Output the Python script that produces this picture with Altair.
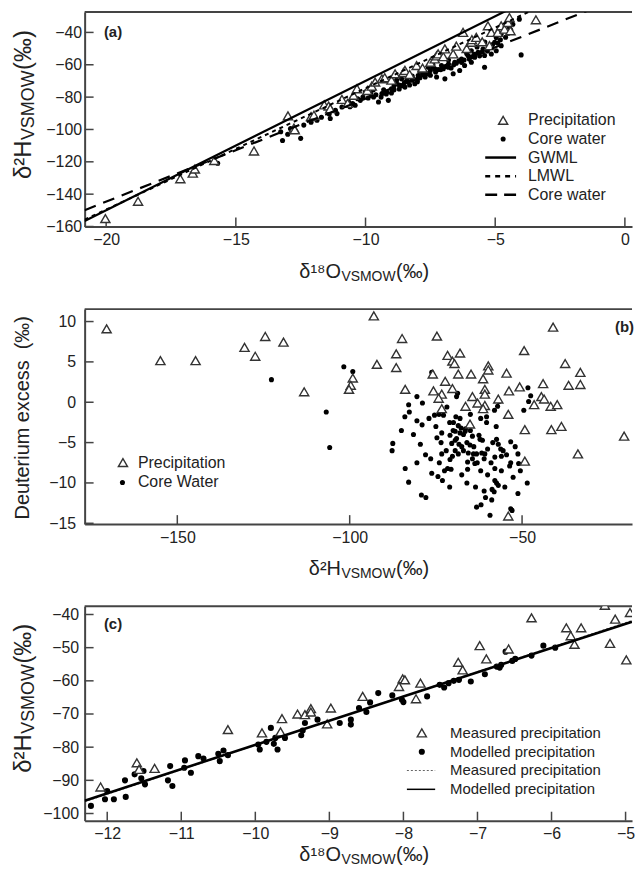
import altair as alt
import pandas as pd

FONT = "Liberation Sans"
INK = "#222222"
AXC = "#444444"
W = 550
H_A, H_B, H_C = 215.5, 216, 215.5

# ---------------- panel (a) ----------------
a_xdom = [-20.83, 0.275]
a_ydom = [-160, -27.4]
a_xticks = [-20, -15, -10, -5, 0]
a_yticks = [-40, -60, -80, -100, -120, -140, -160]
a_prec_o18 = [-20.03, -18.77, -17.14, -16.66, -16.58, -15.83, -14.30, -12.99, -12.76, -12.73,
              -12.10, -11.99, -11.59, -11.42, -11.36, -10.91, -10.69, -10.46, -10.33, -9.93,
              -9.76, -9.63, -9.37, -9.26, -9.00, -8.86, -8.54, -8.48, -8.30, -8.03,
              -7.80, -7.50, -7.33, -7.26, -7.20, -7.00, -6.94, -6.62, -6.50, -6.24,
              -6.10, -5.92, -5.90, -5.73, -5.50, -5.28, -5.22, -5.15, -4.90, -4.77,
              -4.64, -4.51, -4.45, -4.41, -3.43]
a_prec_h2 = [-155.1, -144.4, -130.5, -127.0, -124.5, -119.2, -113.3, -91.6, -99.1, -100.2,
             -92.1, -91.2, -84.8, -85.5, -87.1, -81.4, -83.9, -78.9, -74.8, -75.9,
             -73.2, -70.7, -68.7, -68.0, -69.5, -65.6, -64.8, -63.5, -66.0, -60.5,
             -62.0, -58.5, -56.4, -54.5, -53.3, -55.0, -50.2, -53.3, -48.5, -40.0,
             -50.0, -46.1, -44.5, -43.1, -45.8, -35.9, -48.2, -40.0, -40.0, -35.9,
             -38.0, -33.9, -30.8, -39.0, -32.2]
a_core_o18 = [-15.70, -13.27, -13.20, -12.89, -12.50, -12.38, -11.87, -11.36, -11.10, -11.16,
              -10.91, -10.65, -10.40, -10.20, -10.01, -9.69, -9.50, -9.37, -9.18, -9.12,
              -9.00, -8.80, -8.61, -8.48, -8.35, -8.16, -8.10, -7.97, -7.71, -7.58,
              -7.33, -7.26, -7.07, -6.94, -6.81, -6.62, -6.56, -6.37, -6.30, -6.18,
              -6.05, -5.92, -5.92, -5.79, -5.66, -5.47, -5.41, -5.41, -5.15, -5.02,
              -4.96, -4.96, -4.77, -4.77, -4.45, -4.32, -4.07, -4.00,
              -8.90, -8.70, -8.20, -7.80, -7.50, -7.90, -8.40, -9.30, -9.80, -10.50,
              -6.80, -7.10, -6.40, -7.40, -8.00,
              -9.90, -9.60, -9.40, -9.20, -9.00, -8.90, -8.70, -8.60, -8.50, -8.30,
              -8.20, -8.00, -7.90, -7.70, -7.60, -7.50, -7.30, -7.20, -7.00, -6.90,
              -6.70, -6.60, -6.50, -6.30, -6.20, -6.00, -5.90, -5.80, -5.60, -5.50,
              -5.30, -5.20, -5.10, -4.90, -4.80, -4.60, -4.50, -4.40, -10.60, -10.30,
              -10.10, -9.70, -8.80, -8.40, -7.80, -7.40, -6.80, -6.10, -5.70, -5.40,
              -11.40, -11.70, -12.10, -12.70, -13.00]
a_core_h2 = [-120.9, -101.4, -106.8, -99.4, -105.5, -97.3, -94.3, -93.2, -90.2, -88.1,
             -86.1, -83.0, -85.0, -82.0, -76.9, -79.9, -83.0, -77.9, -76.9, -82.0,
             -74.8, -71.7, -68.7, -73.8, -70.7, -68.7, -71.7, -66.6, -64.6, -61.5,
             -62.5, -67.6, -60.5, -68.7, -61.5, -65.6, -58.4, -63.5, -56.4, -60.5,
             -54.3, -51.3, -58.4, -55.3, -52.3, -50.2, -54.3, -61.5, -53.3, -46.1,
             -51.3, -43.1, -48.2, -41.0, -36.9, -34.9, -31.8, -53.9,
             -73.0, -72.5, -67.0, -66.0, -63.5, -64.0, -69.5, -75.5, -78.0, -84.0,
             -59.5, -63.0, -57.5, -60.0, -69.0,
             -80.5, -78.5, -80.0, -78.0, -77.5, -75.5, -75.0, -73.0, -71.0, -72.5,
             -69.5, -70.5, -68.0, -67.5, -65.5, -66.5, -64.5, -63.0, -62.5, -61.0,
             -62.0, -60.0, -59.0, -58.5, -57.0, -56.5, -55.0, -53.5, -54.5, -52.0,
             -51.5, -49.5, -47.5, -46.5, -44.5, -43.0, -40.5, -38.5, -86.0, -81.0,
             -80.0, -75.5, -69.5, -67.5, -63.0, -61.5, -57.0, -53.0, -49.0, -46.0,
             -90.5, -92.5, -95.5, -101.0, -103.0]
a_line_names = ["GWML", "LMWL", "Core water"]
a_line_slope = [8.0, 7.5, 6.36]
a_line_icpt = [10.0, 0.5, -17.4]
a_legend = ["Precipitation", "Core water", "GWML", "LMWL", "Core water"]

# ---------------- panel (b) ----------------
b_xdom = [-176.88, -18.11]
b_ydom = [-15.1, 11.54]
b_xticks = [-150, -100, -50]
b_yticks = [10, 5, 0, -5, -10, -15]
b_prec_h2 = [-170.5, -154.9, -144.7, -130.5, -127.4, -124.5, -119.2, -113.2,
             -93.0, -84.8, -74.7, -86.5, -92.1, -86.5, -99.1, -99.7, -100.2, -83.9,
             -71.6, -68.0, -70.2, -69.6, -59.8, -59.8, -75.9, -68.5, -64.8, -61.3, -54.5,
             -72.3, -70.2, -75.7, -73.3, -74.2, -60.8, -60.8, -64.4, -66.4, -62.9, -60.8,
             -56.9, -61.3, -73.3, -53.8, -50.7, -54.0, -65.1, -49.2, -49.2, -54.0, -49.4,
             -41.0, -37.5, -36.5, -33.1, -33.1, -43.9, -44.4, -43.6, -46.5, -41.7, -39.8,
             -41.5, -38.6, -33.8, -20.4]
b_prec_dex = [9.1, 5.15, 5.15, 6.8, 5.7, 8.15, 7.45, 1.3,
              10.7, 7.9, 8.2, 6.0, 4.7, 4.3, 3.0, 2.1, 1.6, 1.6,
              5.8, 6.1, 5.1, 4.8, 4.5, 4.0, 3.5, 3.5, 3.5, 2.9, 3.6,
              2.6, 1.7, 1.4, 1.0, 0.5, 1.6, 1.0, 0.7, -0.5, -0.1, -0.4,
              0.4, -0.8, -0.8, 1.4, 1.9, -1.5, -2.7, -3.4, -7.3, -14.1, 6.4,
              9.3, 4.8, 2.1, 3.7, 2.2, 2.3, 0.7, 0.4, -0.3, -0.5, -0.3,
              -3.4, -3.0, -6.4, -4.2]
b_core_h2 = [-122.7, -106.8, -105.8, -101.7, -99.1, -76.2, -80.5, -78.9, -82.9, -82.7,
             -80.5, -85.0, -87.5, -87.7, -79.5, -83.9, -80.5, -82.9, -79.2, -77.9,
             -76.2, -74.4, -73.1, -75.4, -74.1, -72.8, -69.0, -69.2, -69.9, -68.5,
             -67.7, -66.4, -69.4, -68.0, -66.5, -73.3, -74.7, -70.9, -70.4, -68.3,
             -67.5, -67.0, -69.4, -70.2, -70.9, -71.6, -70.6, -65.6, -64.1, -64.4,
             -65.8, -65.8, -63.2, -61.7, -60.8, -60.0, -62.5, -62.2, -60.3, -64.4,
             -57.4, -56.9, -56.2, -55.5, -53.3, -57.9, -57.9, -57.9, -57.4, -56.9,
             -58.7, -58.1, -58.8, -60.6, -61.9, -63.2, -59.3, -53.3, -52.9, -52.6,
             -51.2, -51.0, -53.3, -53.6, -48.5, -51.2, -48.3, -47.5, -48.1, -57.1,
             -56.7, -60.3, -68.7, -69.4, -68.5, -63.7, -61.5, -56.0, -65.1, -73.3, -71.8,
             -77.0, -75.0, -73.5, -72.0, -71.0, -70.0, -69.0, -68.0, -67.0, -66.0,
             -65.0, -64.0, -63.0, -62.0, -61.0, -60.0, -59.0, -58.5, -57.5, -56.0,
             -55.0, -54.5, -52.0, -50.5, -49.5, -81.5, -78.0, -76.5, -74.0, -72.5,
             -71.0, -67.5, -66.0, -63.5, -61.0, -84.0, -79.0, -65.0, -62.0, -58.0]
b_core_dex = [2.8, -1.2, -5.6, 4.4, 3.8, 3.7, 0.7, -0.1, -0.3, -1.2,
              -2.3, -3.5, -5.1, -6.0, -5.2, -8.2, -7.5, -9.9, -11.5, -11.8,
              -8.8, -9.2, -9.7, -1.6, -1.5, -1.6, 0.7, -1.8, -2.5, -2.9,
              -3.2, -3.3, -3.6, -3.8, -3.6, -3.8, -4.4, -4.1, -5.1, -5.2,
              -5.5, -6.0, -6.0, -6.7, -7.1, -8.2, -8.3, -6.3, -6.4, -7.0,
              -7.4, -8.3, -6.4, -6.3, -6.4, -5.8, -4.1, -4.6, -2.5, -4.2,
              -4.6, -5.2, -5.8, -6.0, -4.9, -6.8, -8.2, -9.7, -10.0, -10.3,
              -10.8, -11.1, -12.1, -11.8, -12.7, -13.0, -14.0, -13.2, -13.4, -9.3,
              -6.4, -7.6, -7.5, -7.9, -10.0, -11.3, 1.8, 0.8, 0.1, -0.5,
              0.1, -1.8, 1.1, -4.7, -6.4, -7.6, -4.7, -6.7, -5.3, -6.4, -0.6,
              -2.0, -3.0, -5.0, -6.0, -2.5, -3.5, -4.5, -2.0, -4.0, -5.0,
              -3.5, -5.5, -7.5, -8.5, -7.0, -9.0, -7.5, -5.0, -3.0, -8.5,
              -10.5, -6.5, -5.5, -8.5, -1.0, -4.0, -6.5, -7.0, -7.5, -8.5,
              -10.5, -9.0, -10.0, -10.5, -11.0, -1.8, -2.8, -1.5, -2.0, -1.0]
b_legend = ["Precipitation", "Core Water"]

# ---------------- panel (c) ----------------
c_xdom = [-12.305, -4.913]
c_ydom = [-102.16, -37.5]
c_xticks = [-12, -11, -10, -9, -8, -7, -6, -5]
c_yticks = [-40, -50, -60, -70, -80, -90, -100]
c_meas_o18 = [-12.09, -11.60, -11.57, -11.36, -10.37, -9.91, -9.64, -9.66, -9.43, -9.33,
              -9.25, -9.25, -8.98, -9.03, -8.55, -8.01, -7.98, -8.06, -7.77, -7.83,
              -7.26, -7.20, -6.97, -6.88, -6.58, -6.27, -5.80, -5.60, -5.74, -5.69,
              -5.14, -4.94, -5.21, -4.99, -5.28]
c_meas_h2 = [-92.0, -84.7, -86.7, -86.4, -74.7, -75.7, -71.4, -75.4, -70.0, -70.2,
             -68.4, -69.4, -68.2, -73.0, -64.7, -59.4, -59.7, -61.7, -60.7, -65.4,
             -54.4, -56.7, -49.4, -53.4, -50.4, -41.0, -44.0, -44.0, -46.4, -49.0,
             -41.4, -39.4, -48.7, -53.7, -37.2]
c_mod_o18 = [-12.22, -12.03, -11.91, -11.75, -12.00, -11.76, -11.63, -11.51, -11.49, -11.54,
             -11.15, -11.18, -11.12, -10.95, -10.96, -10.87, -10.77, -10.70, -10.50, -10.48,
             -10.43, -10.37, -9.96, -9.94, -9.85, -9.79, -9.70, -9.73, -9.60, -9.38,
             -9.36, -9.33, -9.16, -8.86, -8.71, -8.71, -8.50, -8.60, -8.34, -8.15,
             -8.02, -8.00, -7.68, -7.51, -7.39, -7.32, -7.25, -7.09, -6.74, -6.68,
             -6.53, -6.49, -6.27, -6.11, -5.95, -6.62, -9.75, -8.45, -7.45, -6.90, -6.70]
c_mod_h2 = [-97.7, -95.7, -95.7, -95.0, -93.2, -90.0, -88.2, -87.2, -91.2, -89.4,
            -85.7, -90.0, -91.7, -84.0, -86.2, -87.7, -82.7, -83.4, -82.0, -84.2,
            -81.0, -82.4, -79.2, -80.7, -78.4, -74.2, -80.7, -77.2, -77.2, -76.4,
            -75.0, -72.7, -71.7, -72.7, -73.2, -71.7, -69.4, -68.2, -63.7, -64.4,
            -65.7, -66.4, -64.7, -61.2, -60.7, -60.0, -59.7, -60.2, -55.7, -55.2,
            -54.0, -53.4, -52.4, -49.4, -50.0, -51.2, -79.0, -66.5, -62.0, -58.0, -56.0]
c_line_names = ["Measured precipitation", "Modelled precipitation"]
c_line_slope = [7.38, 7.30]
c_line_icpt = [-5.6, -6.3]
c_legend = ["Measured precipitation", "Modelled precipitation",
            "Measured precipitation", "Modelled precipitation"]

# ---------------- helpers ----------------
one = pd.DataFrame({"k": [0]})
TRI = dict(shape="triangle-up", filled=True, fill="white", stroke="#333333",
           size=85, strokeWidth=1.4, opacity=1)
DOT_A = dict(shape="circle", filled=True, size=26, color="black", opacity=1)
DOT_C = dict(shape="circle", filled=True, size=38, color="black", opacity=1)


def axis(vals, pad):
    return alt.Axis(values=vals, title=None, ticks=False, grid=False, domain=True,
                    domainColor=AXC, domainWidth=2, labelFont=FONT, labelFontSize=16,
                    labelColor=INK, labelPadding=pad, labelFlush=False, labelOverlap=False)


def make_enc(xdom, ydom, xticks, yticks, xpad, ypad):
    sx = alt.Scale(domain=xdom, nice=False, zero=False)
    sy = alt.Scale(domain=ydom, nice=False, zero=False)
    ax, ay = axis(xticks, xpad), axis(yticks, ypad)

    def X(f):
        return alt.X(f + ":Q", scale=sx, axis=ax)

    def Y(f):
        return alt.Y(f + ":Q", scale=sy, axis=ay)
    return X, Y


def frame(X, Y, xticks, yticks, H):
    tx = alt.Chart(pd.DataFrame({"tx": xticks})).mark_rule(color=AXC, strokeWidth=1.5).encode(
        x=X("tx"), y=alt.value(H), y2=alt.value(H - 9))
    ty = alt.Chart(pd.DataFrame({"ty": yticks})).mark_rule(color=AXC, strokeWidth=1.5).encode(
        y=Y("ty"), x=alt.value(0), x2=alt.value(9))
    top = alt.Chart(one).mark_rule(color=AXC, strokeWidth=2).encode(
        x=alt.value(0), x2=alt.value(W), y=alt.value(0))
    return [tx, ty, top]


def txt(s, x, y, size, align="left", baseline="middle", angle=0, weight="normal", color=INK):
    kw = dict(text=s, align=align, baseline=baseline, fontSize=size, font=FONT,
              color=color, fontWeight=weight)
    if angle:
        kw["angle"] = angle
    return alt.Chart(one).mark_text(**kw).encode(x=alt.value(x), y=alt.value(y))


def line(X, Y, xdom, slope, icpt, width, dash=None, color="black"):
    df = pd.DataFrame({"lx": xdom, "ly": [slope * v + icpt for v in xdom]})
    kw = dict(clip=True, strokeWidth=width, color=color)
    if dash:
        kw["strokeDash"] = dash
    return alt.Chart(df).mark_line(**kw).encode(x=X("lx"), y=Y("ly"))


def pts(X, Y, xs, ys, **style):
    df = pd.DataFrame({"px": xs, "py": ys})
    return alt.Chart(df).mark_point(clip=True, **style).encode(x=X("px"), y=Y("py"))


def sym(x, y, **style):
    return alt.Chart(one).mark_point(**style).encode(x=alt.value(x), y=alt.value(y))


def seg(x1, x2, y, width, dash=None, color="black"):
    kw = dict(strokeWidth=width, color=color)
    if dash:
        kw["strokeDash"] = dash
    return alt.Chart(one).mark_rule(**kw).encode(x=alt.value(x1), x2=alt.value(x2), y=alt.value(y))


def htitle(main1, sub, main2, x0, yb, F=20, f=14):
    wsub = 3.889 * f
    return [txt(main1, x0, yb, F, align="right", baseline="alphabetic"),
            txt(sub, x0 + 0.5, yb + 3, f, align="left", baseline="alphabetic"),
            txt(main2, x0 + wsub + 1, yb, F, align="left", baseline="alphabetic")]


def vtitle(main1, sub, main2, xb, yc, F=24, f=18):
    w1 = 1.611 * F
    wsub = 3.889 * f
    w3 = 1.667 * F
    total = w1 + wsub + w3
    y0 = yc + total / 2 - w1
    return [txt(main1, xb, y0, F, align="right", baseline="alphabetic", angle=270),
            txt(sub, xb + 3, y0 - 0.5, f, align="left", baseline="alphabetic", angle=270),
            txt(main2, xb, y0 - wsub - 1, F, align="left", baseline="alphabetic", angle=270)]


# ---------------- panel (a) chart ----------------
Xa, Ya = make_enc(a_xdom, a_ydom, a_xticks, a_yticks, 5, 3)
la = frame(Xa, Ya, a_xticks, a_yticks, H_A)
la += [pts(Xa, Ya, a_core_o18, a_core_h2, **DOT_A),
       pts(Xa, Ya, a_prec_o18, a_prec_h2, **TRI),
       line(Xa, Ya, a_xdom, a_line_slope[0], a_line_icpt[0], 2.2),
       line(Xa, Ya, a_xdom, a_line_slope[1], a_line_icpt[1], 2, [4, 4]),
       line(Xa, Ya, a_xdom, a_line_slope[2], a_line_icpt[2], 2.2, [12, 8])]
ya0, ystep = 108.8, 18.7
la += [sym(420.5, ya0, **TRI), sym(420.5, ya0 + ystep, **DOT_A),
       seg(402.5, 433.5, ya0 + 2 * ystep, 2.5),
       seg(402.5, 433.5, ya0 + 3 * ystep, 2.5, [5, 5]),
       seg(402.5, 433.5, ya0 + 4 * ystep, 2.5, [12, 7])]
la += [txt(s, 445.5, ya0 + i * ystep, 16) for i, s in enumerate(a_legend)]
la += [txt("(a)", 28.5, 19.8, 15, align="center", weight="bold")]
la += htitle("δ¹⁸O", "VSMOW", "(‰)", 257.5, H_A + 52)
la += vtitle("δ²H", "VSMOW", "(‰)", -53.4, 93.5)
pa = alt.layer(*la).properties(width=W, height=H_A)

# ---------------- panel (b) chart ----------------
Xb, Yb = make_enc(b_xdom, b_ydom, b_xticks, b_yticks, 5, 9)
lb = frame(Xb, Yb, b_xticks, b_yticks, H_B)
lb += [pts(Xb, Yb, b_core_h2, b_core_dex, **DOT_A),
       pts(Xb, Yb, b_prec_h2, b_prec_dex, **TRI)]
lb += [sym(38.5, 154.2, **TRI), sym(38.0, 174.2, **DOT_A),
       txt(b_legend[0], 53.5, 154.2, 16), txt(b_legend[1], 53.5, 174.2, 16)]
lb += [txt("(b)", 542.5, 17.5, 15, align="center", weight="bold")]
lb += htitle("δ²H", "VSMOW", "(‰)", 257.5, H_B + 51.5)
lb += [txt("Deuterium excess\u00a0 (‰)", -55.5, 109.2, 20, align="center",
           baseline="alphabetic", angle=270)]
pb = alt.layer(*lb).properties(width=W, height=H_B)

# ---------------- panel (c) chart ----------------
Xc, Yc = make_enc(c_xdom, c_ydom, c_xticks, c_yticks, 5, 6)
lc = frame(Xc, Yc, c_xticks, c_yticks, H_C)
lc += [pts(Xc, Yc, c_mod_o18, c_mod_h2, **DOT_C),
       pts(Xc, Yc, c_meas_o18, c_meas_h2, **TRI),
       line(Xc, Yc, c_xdom, c_line_slope[0], c_line_icpt[0], 1.2, [2, 2], "#666666"),
       line(Xc, Yc, c_xdom, c_line_slope[1], c_line_icpt[1], 2.6)]
yc0, ycs = 127.3, 18.9
lc += [sym(338.8, yc0, **TRI), sym(338.8, yc0 + ycs, **DOT_C),
       seg(323.8, 352.2, yc0 + 2 * ycs, 1.2, [2, 2], "#666666"),
       seg(323.8, 352.2, yc0 + 3 * ycs, 1.5)]
lc += [txt(s, 367.2, yc0 + i * ycs, 15) for i, s in enumerate(c_legend)]
lc += [txt("(c)", 28.5, 18, 15, align="center", weight="bold")]
lc += htitle("δ¹⁸O", "VSMOW", "(‰)", 257.5, H_C + 41)
lc += vtitle("δ²H", "VSMOW", "(‰)", -53.4, 93)
pc = alt.layer(*lc).properties(width=W, height=H_C)

chart = alt.vconcat(pa, pb, pc, spacing=82.5, bounds="flush").properties(
    padding={"left": 4, "top": 0, "right": 0, "bottom": 0}
).configure_view(stroke="transparent")

chart.save("out.html", embed_options={"renderer": "svg", "actions": False})
